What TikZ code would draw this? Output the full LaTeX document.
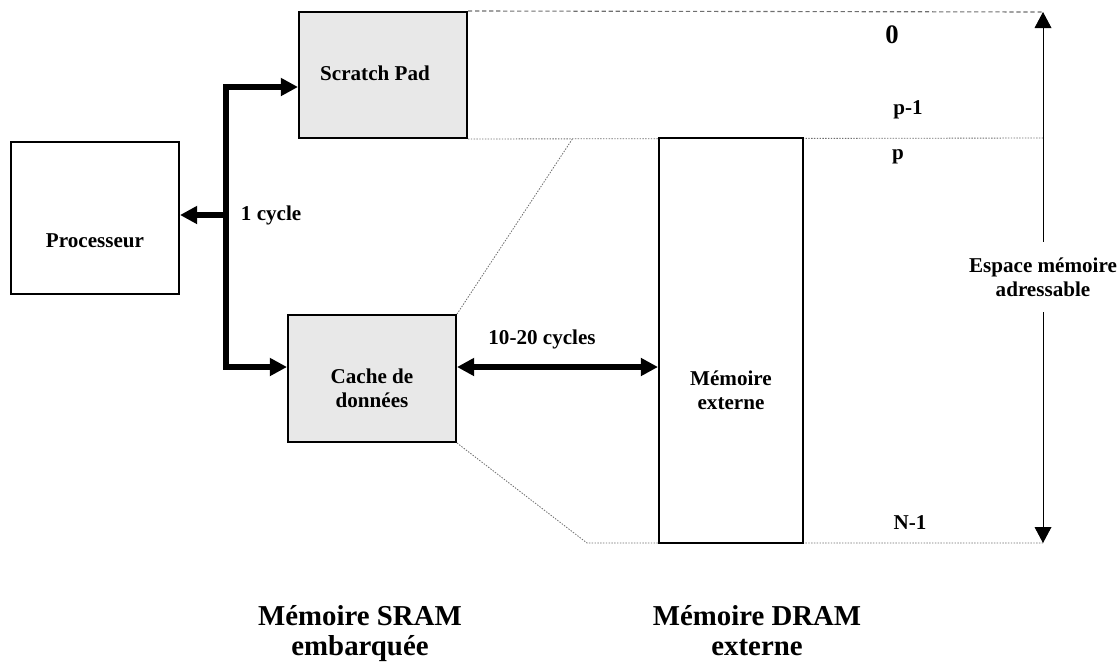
\documentclass[tikz,border=0pt]{standalone}
\usepackage{fontspec}
\setmainfont{Liberation Serif}
\usepackage{tikz}
\usetikzlibrary{arrows.meta, positioning, backgrounds}
\definecolor{sramgray}{HTML}{E8E8E8}
\definecolor{guidegray}{HTML}{6F6F6F}

\begin{document}
\begin{tikzpicture}[
    x=0.025cm, y=-0.025cm,
    every node/.style={font=\bfseries\fontsize{15}{17}\selectfont, align=center},
    box/.style={rectangle, draw, line width=1.4pt, inner sep=0pt},
    bus/.style={line width=4.5pt, line join=miter},
    bustip/.style={bus, -{Triangle[length=4.3mm, width=4.3mm]}},
    busboth/.style={bus, {Triangle[length=4.3mm, width=4.3mm]}-{Triangle[length=4.3mm, width=4.3mm]}},
    addr/.style={line width=0.6pt, {Triangle[length=4mm, width=4.2mm]}-{Triangle[length=4mm, width=4.2mm]}},
    guide/.style={draw=guidegray, line width=0.6pt, dash pattern=on 1pt off 1pt},
    topguide/.style={draw=guidegray, line width=0.8pt, dash pattern=on 3pt off 2pt},
    big/.style={font=\bfseries\fontsize{20.5}{22}\selectfont, anchor=north}
]
\useasboundingbox (0,0) rectangle (1120,666);

% blocs
\node[box, minimum width=4.2cm, minimum height=3.8cm] (proc) at (95,218) {};
\node (proclbl) at (95,241) {Processeur};
\node[box, fill=sramgray, minimum width=4.2cm, minimum height=3.15cm] (scratch) at (383,75) {};
\node (scratchlbl) at (375,73) {Scratch Pad};
\node[box, fill=sramgray, minimum width=4.2cm, minimum height=3.175cm] (cache) at (372,378.5) {};
\node (cachelbl) at (372,388) {Cache de\\données};
\node[box, fill=white, minimum width=3.6cm, minimum height=10.125cm] (mem) at (731,340.5) {};
\node (memlbl) at (731,390) {Mémoire\\externe};

% bus
\coordinate (bustop) at (226,87);
\coordinate (busmid) at (226,215);
\coordinate (busbot) at (226,367);
\draw[busboth] (bustop -| scratch.west) -- (bustop) -- (busbot) -- (busbot -| cache.west);
\draw[bustip] (busmid) -- (busmid -| proc.east);
\node[right=0.25cm of busmid] (lat1) {1 cycle};
\draw[busboth] (cache.east |- busbot) -- (mem.west |- busbot);
\node (lat2) at (542,339) {10-20 cycles};

% espace d'adressage
\coordinate (addrtop) at (1043,12);
\coordinate (addrp) at (1043,138);
\coordinate (addrbot) at (1043,543);
\coordinate (spl) at (573,138);
\coordinate (spb) at (587,543);
\draw[addr] (addrtop) -- (addrbot)
    node[pos=0.499, fill=white, inner xsep=0pt, inner ysep=11pt] (espace) {Espace mémoire\\adressable};

\begin{scope}[on background layer]
\draw[topguide] (scratch.north east) -- (addrtop);
\draw[guide] (scratch.south east) -- (addrp);
\draw[guide] (cache.north east) -- (spl);
\draw[guide] (cache.south east) -- (spb) -- (addrbot);
\end{scope}

\node[font=\bfseries\fontsize{19}{22}\selectfont] (a0) at (892,35) {0};
\node (apm1) at (908,110) {p-1};
\node (ap) at (898,157) {p};
\node (an1) at (910,523) {N-1};

\node[big] (sram) at (360,600) {Mémoire SRAM\\embarquée};
\node[big] (dram) at (757,600) {Mémoire DRAM\\externe};
\end{tikzpicture}
\end{document}
